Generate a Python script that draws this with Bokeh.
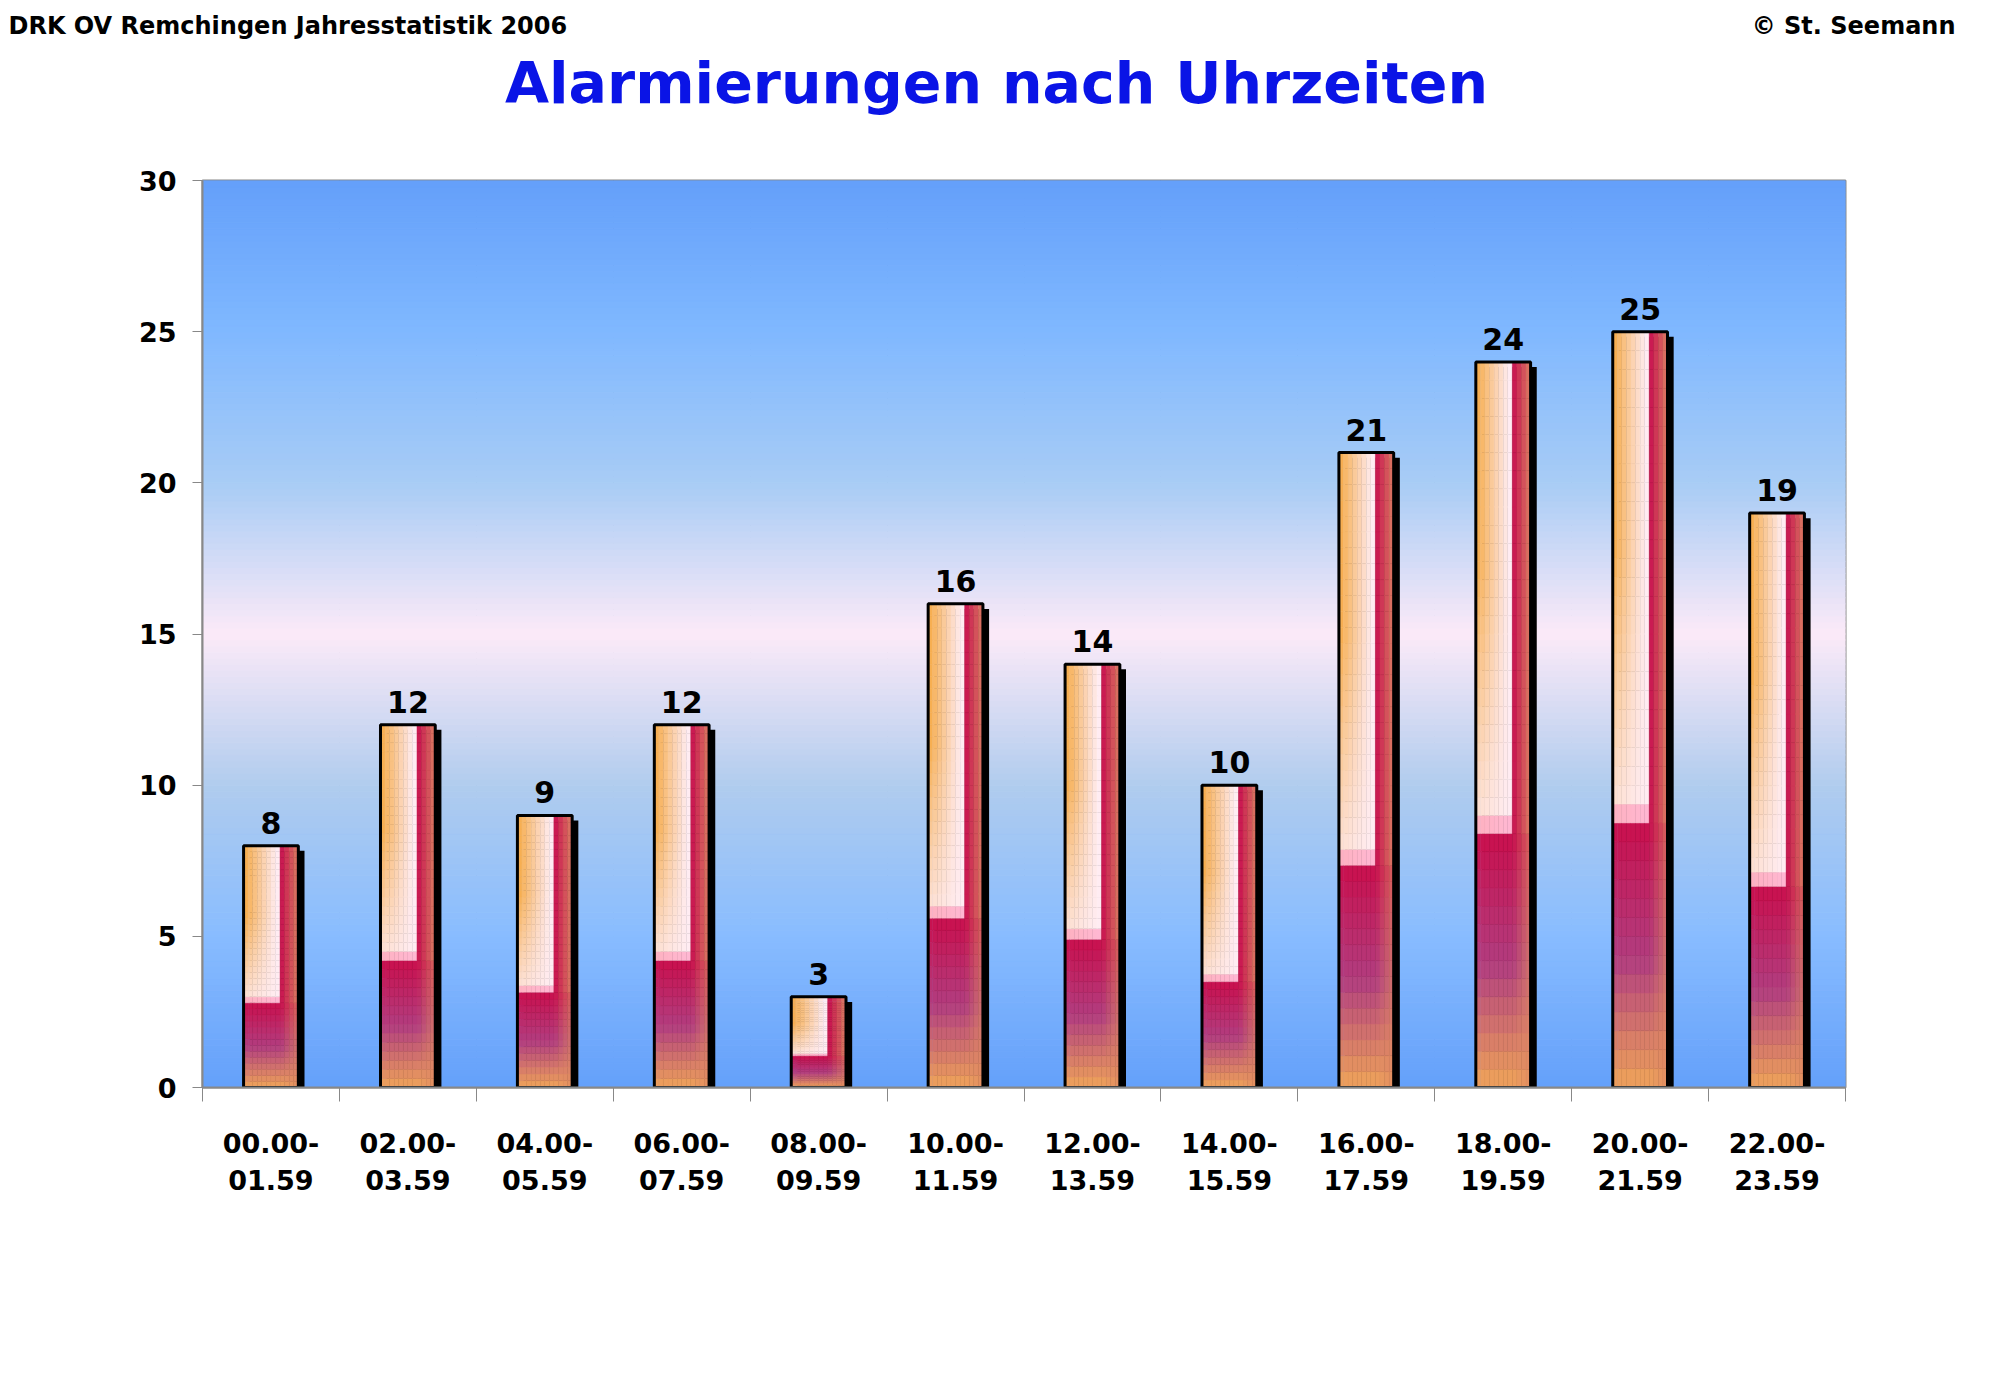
from bokeh.plotting import figure
from bokeh.models import FixedTicker, Range1d
from bokeh.layouts import column
from bokeh.embed import file_html
from bokeh.resources import INLINE
from bokeh.core.properties import value

categories = ["00.00-\n01.59", "02.00-\n03.59", "04.00-\n05.59", "06.00-\n07.59",
              "08.00-\n09.59", "10.00-\n11.59", "12.00-\n13.59", "14.00-\n15.59",
              "16.00-\n17.59", "18.00-\n19.59", "20.00-\n21.59", "22.00-\n23.59"]
counts = [8, 12, 9, 12, 3, 16, 14, 10, 21, 24, 25, 19]
y_ticks = [0, 5, 10, 15, 20, 25, 30]

FONT = "DejaVu Sans"
W, H = 1984, 1372
HH = 150

hdr = figure(width=W, height=HH, output_backend="svg", toolbar_location=None,
             x_range=Range1d(0, W), y_range=Range1d(0, HH), min_border=0,
             x_axis_location=None, y_axis_location=None)
hdr.frame_align = False
hdr.grid.visible = False
hdr.outline_line_color = None
hdr.text(x=[8], y=[125], text=["DRK OV Remchingen Jahresstatistik 2006"], text_font=value(FONT),
         text_font_style="bold", text_font_size="24px", text_baseline="middle", text_align="left")
hdr.text(x=[1955], y=[125], text=["© St. Seemann"], text_font=value(FONT),
         text_font_style="bold", text_font_size="24px", text_baseline="middle", text_align="right")
hdr.text(x=[996], y=[68], text=["Alarmierungen nach Uhrzeiten"], text_font=value(FONT),
         text_font_style="bold", text_font_size="57px", text_color="#0a14e6",
         text_baseline="middle", text_align="center")

p = figure(width=W, height=H - HH, output_backend="svg", toolbar_location=None,
           x_range=Range1d(-0.5, 11.5), y_range=Range1d(0, 30),
           min_border_left=202, min_border_right=139, min_border_top=30, min_border_bottom=285)
p.frame_align = False
p.background_fill_color = "white"
p.outline_line_color = "#888888"
p.outline_line_width = 2

def lerp(a, b, t):
    return tuple(a[i] + (b[i] - a[i]) * t for i in range(3))

def hexc(c):
    return "#%02x%02x%02x" % tuple(int(max(0, min(255, round(v)))) for v in c)

stops = [(0, (100, 160, 250)), (5, (136, 188, 255)), (10, (176, 204, 238)),
         (15, (252, 234, 248)), (20, (168, 204, 245)), (25, (128, 184, 255)), (30, (100, 160, 250))]
def bg(y):
    for (y0, c0), (y1, c1) in zip(stops[:-1], stops[1:]):
        if y0 <= y <= y1:
            return lerp(c0, c1, (y - y0) / (y1 - y0))
    return stops[-1][1]
n = 150
bb, bt, bc = [], [], []
for i in range(n):
    y0 = 30 * i / n; y1 = 30 * (i + 1) / n
    bb.append(y0); bt.append(y1); bc.append(hexc(bg((y0 + y1) / 2)))
p.quad(left=-0.5, right=11.5, bottom=bb, top=bt, fill_color=bc, line_color=bc, line_width=1)

p.xgrid.ticker = FixedTicker(ticks=[i + 0.5 for i in range(-1, 12)])
p.xgrid.grid_line_color = "#56647a"
p.xgrid.grid_line_width = 1
p.ygrid.grid_line_color = None

xs = list(range(len(counts)))
bw = 0.40
p.quad(left=[x - bw / 2 + 0.045 for x in xs], right=[x + bw / 2 + 0.045 for x in xs],
       bottom=0, top=[c - 0.17 for c in counts], fill_color="black", line_color=None)

ORANGE = (246, 170, 70); PALE = (255, 236, 242); CRIM = (200, 18, 80)
PURP = (178, 62, 128); BOT = (240, 165, 90); EDGE = (222, 135, 100)
def barcol(u, v, t):
    if v >= t:
        f = (v - t) / (1 - t)
        if u < 0.68:
            left = lerp(ORANGE, PALE, min(1, u / 0.6))
            c = lerp(PALE, left, min(1, f * 1.6 + 0.1))
            if f < 0.05:
                c = lerp((255, 70, 140), c, f / 0.05)
            return c
        return lerp(CRIM, EDGE, (u - 0.68) / 0.32 * 0.9)
    f = v / t
    if f > 0.5:
        c = lerp(PURP, CRIM, (f - 0.5) / 0.5)
    else:
        c = lerp(BOT, PURP, f / 0.5)
    if u >= 0.68:
        c = lerp(c, EDGE, (u - 0.68) / 0.32 * 0.7)
    return c

L, R, B, T, C = [], [], [], [], []
nu, nv = 12, 40
for x, c in zip(xs, counts):
    t = 0.34
    for i in range(nu):
        for j in range(nv):
            u = (i + 0.5) / nu; v = (j + 0.5) / nv
            L.append(x - bw / 2 + bw * i / nu); R.append(x - bw / 2 + bw * (i + 1) / nu)
            B.append(c * j / nv); T.append(c * (j + 1) / nv)
            C.append(hexc(barcol(u, v, t)))
p.quad(left=L, right=R, bottom=B, top=T, fill_color=C, line_color=C, line_width=0.5)
p.quad(left=[x - bw / 2 for x in xs], right=[x + bw / 2 for x in xs], bottom=0, top=counts,
       fill_color=None, line_color="black", line_width=3)

p.text(x=xs, y=counts, text=[str(c) for c in counts], text_align="center", text_baseline="bottom",
       y_offset=-12, text_font=value(FONT), text_font_style="bold", text_font_size="30px", text_color="black")

p.xaxis.ticker = FixedTicker(ticks=xs, minor_ticks=[i + 0.5 for i in range(-1, 12)])
p.xaxis.major_label_overrides = {i: c for i, c in enumerate(categories)}
p.xaxis.minor_tick_out = 14
p.xaxis.minor_tick_in = 0
p.xaxis.minor_tick_line_color = "#888888"
p.xaxis.major_label_standoff = 26
p.yaxis.ticker = FixedTicker(ticks=y_ticks)
p.yaxis.minor_tick_line_color = None
p.yaxis.major_tick_out = 10
p.yaxis.major_tick_in = 0
p.yaxis.major_label_standoff = 16
for ax in (p.xaxis, p.yaxis):
    ax.axis_line_color = "#888888"
    ax.axis_line_width = 2
    ax.major_label_text_font = FONT
    ax.major_label_text_font_style = "bold"
    ax.major_label_text_font_size = "27px"
    ax.major_label_text_color = "black"
p.xaxis.major_tick_line_color = None
p.yaxis.major_tick_line_color = "#888888"

open("out.html", "w").write(file_html(column(hdr, p), INLINE))
